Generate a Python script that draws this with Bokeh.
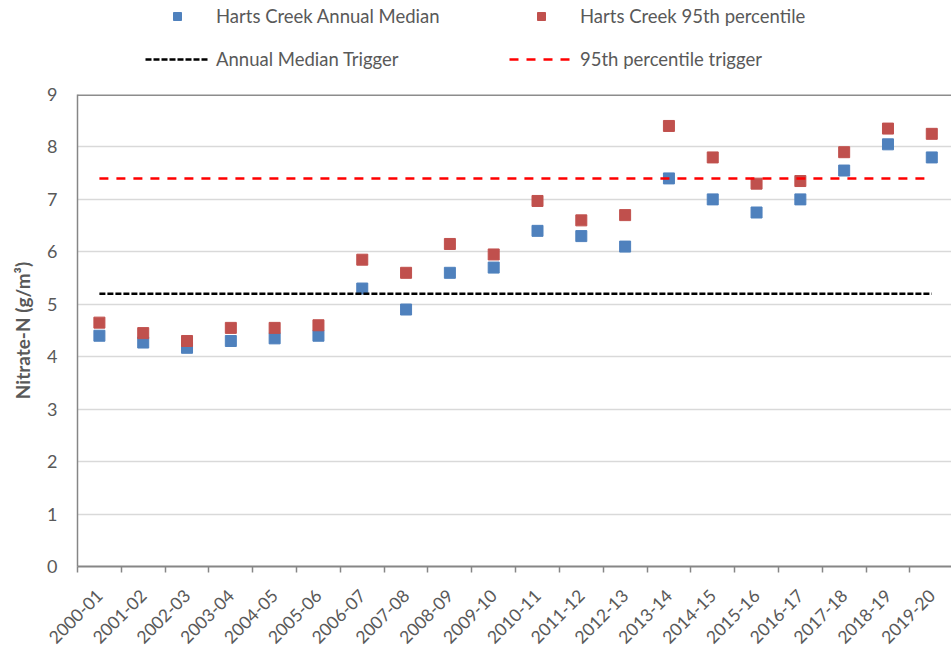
import math
from bokeh.plotting import figure
from bokeh.layouts import column
from bokeh.models import Range1d, FixedTicker, Legend, LegendItem, ColumnDataSource
from bokeh.embed import file_html
from bokeh.resources import INLINE

years = ["2000-01", "2001-02", "2002-03", "2003-04", "2004-05", "2005-06", "2006-07",
         "2007-08", "2008-09", "2009-10", "2010-11", "2011-12", "2012-13", "2013-14",
         "2014-15", "2015-16", "2016-17", "2017-18", "2018-19", "2019-20"]
median = [4.4, 4.27, 4.17, 4.3, 4.35, 4.4, 5.3, 4.9, 5.6, 5.7, 6.4, 6.3, 6.1, 7.4,
          7.0, 6.75, 7.0, 7.55, 8.05, 7.8]
p95 = [4.65, 4.45, 4.3, 4.55, 4.55, 4.6, 5.85, 5.6, 6.15, 5.95, 6.97, 6.6, 6.7, 8.4,
       7.8, 7.3, 7.35, 7.9, 8.35, 8.25]
median_trigger = 5.2
p95_trigger = 7.4
y_ticks = [0, 1, 2, 3, 4, 5, 6, 7, 8, 9]

FONT = "Lato"
TXT = "#595959"
BLUE = "#4F81BD"
RED = "#C0504D"
xs = list(range(len(years)))
W = 951

# ---------------- legend strip ----------------
LEG_H = 72
lg = figure(width=W, height=LEG_H, output_backend="svg", toolbar_location=None,
            x_range=Range1d(0, 1), y_range=Range1d(0, 1),
            x_axis_type=None, y_axis_type=None,
            min_border_left=0, min_border_right=0, min_border_top=0, min_border_bottom=0)
lg.outline_line_color = None
lg.xgrid.visible = False
lg.ygrid.visible = False
# placeholder renderers (outside the visible range) that only supply legend glyphs
d_med = lg.scatter(x=[-5], y=[-5], marker="square", size=11, fill_color=BLUE, line_color=BLUE)
d_p95 = lg.scatter(x=[-5], y=[-5], marker="square", size=11, fill_color=RED, line_color=RED)
d_mt = lg.line(x=[-5, -4], y=[-5, -5], line_color="black", line_width=2.5, line_dash="6 2")
d_pt = lg.line(x=[-5, -4], y=[-5, -5], line_color="#FF0000", line_width=2.5, line_dash="9 8")


def add_leg(label, renderer, loc):
    leg = Legend(items=[LegendItem(label=label, renderers=[renderer])], location=loc,
                 orientation="horizontal")
    leg.glyph_width = 64
    leg.glyph_height = 20
    leg.label_standoff = 7
    leg.padding = 0
    leg.margin = 0
    leg.border_line_color = None
    leg.background_fill_alpha = 0
    leg.label_text_font = FONT
    leg.label_text_font_size = "18.5px"
    leg.label_text_color = TXT
    leg.label_height = 20
    lg.add_layout(leg, "center")


add_leg("Harts Creek Annual Median", d_med, (68, LEG_H - 27))
add_leg("Harts Creek 95th percentile", d_p95, (432, LEG_H - 27))
add_leg("Annual Median Trigger", d_mt, (68, LEG_H - 70))
add_leg("95th percentile trigger", d_pt, (432, LEG_H - 70))

# ---------------- main chart ----------------
TOP = 94 - LEG_H
p = figure(width=W, height=TOP + 473 + 85, output_backend="svg", toolbar_location=None,
           x_range=Range1d(-0.5, 19.45), y_range=Range1d(0, 9),
           min_border_left=77, min_border_top=TOP, min_border_right=0, min_border_bottom=85)
p.outline_line_color = None

p.xgrid.grid_line_color = None
p.ygrid.ticker = FixedTicker(ticks=y_ticks)
p.ygrid.grid_line_color = "#d9d9d9"
p.ygrid.grid_line_width = 1.5

p.yaxis.ticker = FixedTicker(ticks=y_ticks)
p.yaxis.axis_line_color = "#868686"
p.yaxis.axis_line_width = 1.5
p.yaxis.major_tick_line_color = None
p.yaxis.minor_tick_line_color = None
p.yaxis.major_label_text_font = FONT
p.yaxis.major_label_text_font_size = "18px"
p.yaxis.major_label_text_color = TXT
p.yaxis.major_label_standoff = 14
p.yaxis.axis_label = "Nitrate-N (g/m³)"
p.yaxis.axis_label_text_font = FONT
p.yaxis.axis_label_text_font_style = "bold"
p.yaxis.axis_label_text_font_size = "19px"
p.yaxis.axis_label_text_color = TXT
p.yaxis.axis_label_standoff = 10

p.xaxis.ticker = FixedTicker(ticks=xs, minor_ticks=[i - 0.5 for i in range(len(years) + 1)])
p.xaxis.major_label_overrides = {i: y for i, y in enumerate(years)}
p.xaxis.major_label_orientation = math.pi / 4
p.xaxis.major_label_text_font = FONT
p.xaxis.major_label_text_font_size = "17.5px"
p.xaxis.major_label_text_color = TXT
p.xaxis.major_tick_line_color = None
p.xaxis.minor_tick_line_color = "#868686"
p.xaxis.minor_tick_line_width = 1.5
p.xaxis.minor_tick_out = 6
p.xaxis.minor_tick_in = 0
p.xaxis.axis_line_color = "#868686"
p.xaxis.axis_line_width = 2
p.xaxis.major_label_standoff = 20

p.line(x=[-0.5, 19.45], y=[9, 9], line_color="#8c8c8c", line_width=3)

src = ColumnDataSource(dict(x=xs, median=median, p95=p95))
p.scatter("x", "median", source=src, marker="square", size=11,
          fill_color=BLUE, line_color=BLUE)
p.scatter("x", "p95", source=src, marker="square", size=11,
          fill_color=RED, line_color=RED)
p.line(x=[xs[0], xs[-1]], y=[median_trigger, median_trigger],
       line_color="black", line_width=2.5, line_dash="6 2")
p.line(x=[xs[0], xs[-1]], y=[p95_trigger, p95_trigger],
       line_color="#FF0000", line_width=2.5, line_dash="9 8")

layout = column(lg, p, spacing=0)
open("out.html", "w").write(file_html(layout, INLINE))
